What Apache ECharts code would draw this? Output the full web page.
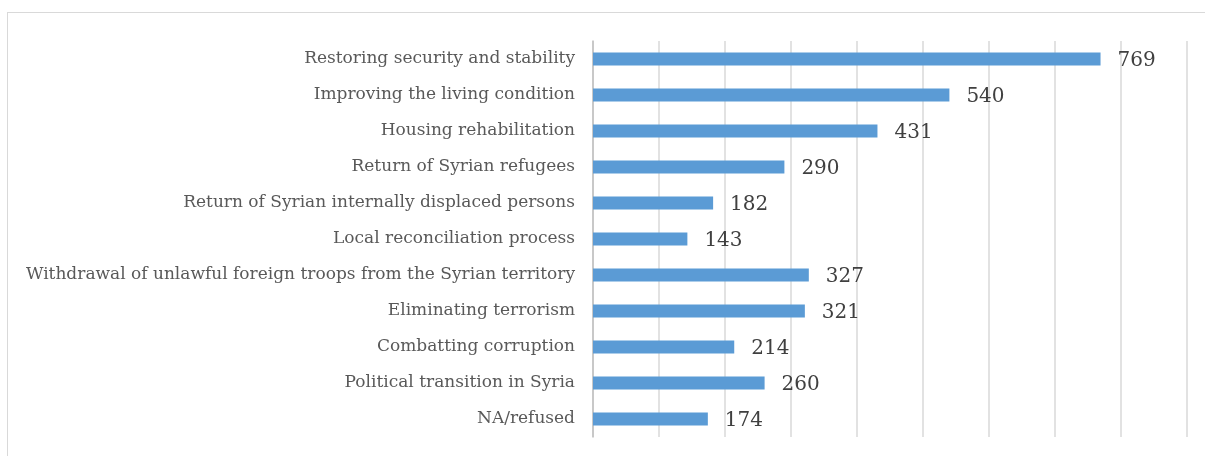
<!DOCTYPE html>
<html><head><meta charset="utf-8">
<script src="https://cdn.jsdelivr.net/npm/echarts@6/dist/echarts.min.js"></script>
<style>
html,body{margin:0;padding:0;background:#fff;}
#frame{position:absolute;left:7px;top:12px;width:1210px;height:460px;border:1px solid #d9d9d9;box-sizing:border-box;}
#chart{position:absolute;left:0;top:0;width:1205px;height:456px;}
</style></head>
<body>
<div id="frame"></div>
<div id="chart"></div>
<script>
const categories = [
  "Restoring security and stability",
  "Improving the living condition",
  "Housing rehabilitation",
  "Return of Syrian refugees",
  "Return of Syrian internally displaced persons",
  "Local reconciliation process",
  "Withdrawal of unlawful foreign troops from the Syrian territory",
  "Eliminating terrorism",
  "Combatting corruption",
  "Political transition in Syria",
  "NA/refused"
];
const values = [769, 540, 431, 290, 182, 143, 327, 321, 214, 260, 174];

const chart = echarts.init(document.getElementById('chart'), null, {renderer:'canvas'});
chart.setOption({
  animation:false,
  backgroundColor:'transparent',
  grid:{left:593, right:18, top:41, bottom:19, containLabel:false},
  xAxis:{type:'value', min:0, max:900, interval:100,
    axisLabel:{show:false}, axisLine:{show:false}, axisTick:{show:false},
    splitLine:{show:true, lineStyle:{color:'#d9d9d9', width:1.5}}},
  yAxis:{type:'category', data:categories, inverse:true,
    axisLine:{show:true, lineStyle:{color:'#bfbfbf', width:1.5}},
    axisTick:{show:false},
    axisLabel:{margin:18, color:'#595959', fontFamily:'DejaVu Serif', fontSize:17, padding:[4,0,0,0]}},
  series:[{type:'bar', data:values, barWidth:13,
    itemStyle:{color:'#5b9bd5'},
    label:{show:true, position:'right', distance:17, color:'#404040',
      fontFamily:'DejaVu Serif', fontSize:20, offset:[0,2]}}]
});
</script>
</body></html>
